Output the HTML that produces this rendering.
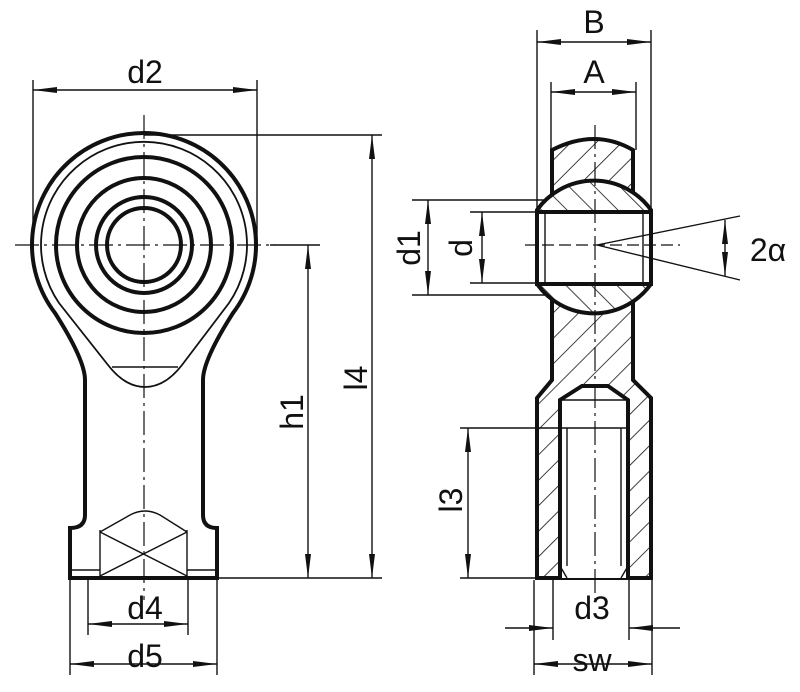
<!DOCTYPE html>
<html><head><meta charset="utf-8"><style>
html,body{margin:0;padding:0;background:#fff;}
svg{display:block;}
text{font-family:"Liberation Sans",sans-serif;font-size:32px;fill:#111;}
</style></head><body>
<svg width="800" height="692" viewBox="0 0 800 692" xmlns="http://www.w3.org/2000/svg">
<defs>
<pattern id="h1" patternUnits="userSpaceOnUse" width="18" height="18" patternTransform="rotate(45)">
<rect width="18" height="18" fill="#fff"/><line x1="0" y1="0" x2="0" y2="18" stroke="#111" stroke-width="1.6"/></pattern>
<pattern id="h2" patternUnits="userSpaceOnUse" width="18" height="18" patternTransform="rotate(-45)">
<rect width="18" height="18" fill="#fff"/><line x1="0" y1="0" x2="0" y2="18" stroke="#111" stroke-width="1.6"/></pattern>
<marker id="b" viewBox="0 0 20 10" refX="20" refY="5" markerWidth="24" markerHeight="12" markerUnits="userSpaceOnUse" orient="auto-start-reverse">
<path d="M0 2.5 L20 5 L0 7.5 Z" fill="#111"/></marker>
</defs>

<g fill="none" stroke="#111">
<!-- LEFT VIEW -->
<path d="M85 515 L85 380 Q85 360 55 313 A112 112 0 1 1 233 313 Q203 360 203 380 L203 515 Q203 528 217 528 L217 578 L70 578 L70 528 Q85 528 85 515 Z" stroke-width="4"/>
<path d="M59 303 A103 103 0 1 1 229 303 L182 365 Q165 387 145 387 Q125 387 108 365 Z" stroke-width="1.8"/>
<line x1="112" y1="367" x2="178" y2="367" stroke-width="1.4"/>
<circle cx="144" cy="245" r="88" stroke-width="4"/>
<circle cx="144" cy="245" r="67" stroke-width="4"/>
<circle cx="144" cy="245" r="48" stroke-width="4"/>
<circle cx="144" cy="245" r="37" stroke-width="4"/>
<!-- hex -->
<g stroke-width="1.4">
<line x1="100" y1="530" x2="100" y2="576"/><line x1="187" y1="530" x2="187" y2="576"/>
<line x1="72" y1="570" x2="100" y2="570"/><line x1="187" y1="570" x2="215" y2="570"/>
<path d="M100 532 L130 515 Q145 507 160 515 L187 532"/>
<line x1="100" y1="532" x2="187" y2="576"/><line x1="187" y1="532" x2="100" y2="576"/>
</g>
<!-- centre lines -->
<g stroke-width="1.2" stroke-dasharray="24 5 3 5">
<line x1="15" y1="245" x2="275" y2="245"/>
<line x1="144" y1="115" x2="144" y2="600"/>
</g>
<!-- left dims -->
<g stroke-width="1.4">
<line x1="33" y1="80" x2="33" y2="245"/><line x1="257" y1="80" x2="257" y2="245"/>
<line x1="33" y1="90" x2="257" y2="90" marker-start="url(#b)" marker-end="url(#b)"/>
<line x1="144" y1="135" x2="382" y2="135"/>
<line x1="270" y1="245" x2="320" y2="245"/>
<line x1="217" y1="578" x2="382" y2="578"/>
<line x1="308" y1="245" x2="308" y2="578" marker-start="url(#b)" marker-end="url(#b)"/>
<line x1="372" y1="135" x2="372" y2="578" marker-start="url(#b)" marker-end="url(#b)"/>
<line x1="88" y1="580" x2="88" y2="635"/><line x1="188" y1="580" x2="188" y2="635"/>
<line x1="88" y1="624" x2="188" y2="624" marker-start="url(#b)" marker-end="url(#b)"/>
<line x1="70" y1="580" x2="70" y2="675"/><line x1="217" y1="580" x2="217" y2="675"/>
<line x1="70" y1="664" x2="217" y2="664" marker-start="url(#b)" marker-end="url(#b)"/>
</g>

<!-- RIGHT VIEW -->
<path d="M552 150 Q595 128 633 150 L633 380 L651 398 L651 578 L537 578 L537 398 L552 380 Z" fill="url(#h1)" stroke-width="4"/>
<path d="M537 210 A70 70 0 0 1 651 210 L651 284 A70 70 0 0 1 537 284 Z" fill="url(#h2)" stroke-width="4"/>
<rect x="537" y="212" width="114" height="72" fill="#fff" stroke-width="4"/>
<line x1="545" y1="212" x2="545" y2="284" stroke-width="1.4"/><line x1="643" y1="212" x2="643" y2="284" stroke-width="1.4"/>
<path d="M560 578 L560 400 L582 386 L608 386 L628 400 L628 578" fill="#fff" stroke-width="4"/>
<line x1="560" y1="400" x2="628" y2="400" stroke-width="1.4"/>
<g stroke-width="1.4">
<line x1="567" y1="428" x2="567" y2="566"/><line x1="621" y1="428" x2="621" y2="566"/>
<line x1="560" y1="566" x2="567" y2="578"/><line x1="628" y1="566" x2="621" y2="578"/>
</g>
<line x1="595" y1="125" x2="595" y2="600" stroke-width="1.2" stroke-dasharray="24 5 3 5"/>
<line x1="525" y1="245" x2="680" y2="245" stroke-width="1.2" stroke-dasharray="12 5"/>
<!-- right dims -->
<g stroke-width="1.4">
<line x1="537" y1="30" x2="537" y2="210"/><line x1="651" y1="30" x2="651" y2="210"/>
<line x1="537" y1="42" x2="651" y2="42" marker-start="url(#b)" marker-end="url(#b)"/>
<line x1="551" y1="82" x2="551" y2="150"/><line x1="636" y1="82" x2="636" y2="150"/>
<line x1="551" y1="92" x2="636" y2="92" marker-start="url(#b)" marker-end="url(#b)"/>
<line x1="412" y1="200" x2="545" y2="200"/><line x1="412" y1="295" x2="545" y2="295"/>
<line x1="428" y1="200" x2="428" y2="295" marker-start="url(#b)" marker-end="url(#b)"/>
<line x1="470" y1="212" x2="537" y2="212"/><line x1="470" y1="283" x2="537" y2="283"/>
<line x1="482" y1="212" x2="482" y2="283" marker-start="url(#b)" marker-end="url(#b)"/>
<line x1="597" y1="245" x2="740" y2="216"/><line x1="597" y1="245" x2="740" y2="280"/>
<line x1="725" y1="220" x2="725" y2="276" marker-start="url(#b)" marker-end="url(#b)"/>
<line x1="460" y1="428" x2="628" y2="428"/><line x1="460" y1="578" x2="537" y2="578"/>
<line x1="468" y1="428" x2="468" y2="578" marker-start="url(#b)" marker-end="url(#b)"/>
<line x1="553" y1="580" x2="553" y2="640"/><line x1="629" y1="580" x2="629" y2="640"/>
<line x1="534" y1="580" x2="534" y2="675"/><line x1="652" y1="580" x2="652" y2="675"/>
<line x1="505" y1="628" x2="553" y2="628" marker-end="url(#b)"/>
<line x1="680" y1="628" x2="629" y2="628" marker-end="url(#b)"/>
<line x1="534" y1="664" x2="652" y2="664" marker-start="url(#b)" marker-end="url(#b)"/>
</g>
</g>

<text x="145" y="83" text-anchor="middle">d2</text>
<text x="145" y="619" text-anchor="middle">d4</text>
<text x="145" y="667" text-anchor="middle">d5</text>
<text transform="translate(303 412) rotate(-90)" text-anchor="middle">h1</text>
<text transform="translate(367 378) rotate(-90)" text-anchor="middle">l4</text>
<text x="594" y="33" text-anchor="middle">B</text>
<text x="594" y="83" text-anchor="middle">A</text>
<text transform="translate(420 248) rotate(-90)" text-anchor="middle">d1</text>
<text transform="translate(472 248) rotate(-90)" text-anchor="middle">d</text>
<text x="768" y="261" text-anchor="middle">2α</text>
<text transform="translate(462 500) rotate(-90)" text-anchor="middle">l3</text>
<text x="592" y="619" text-anchor="middle">d3</text>
<text x="592" y="671" text-anchor="middle">sw</text>
</svg>
</body></html>
